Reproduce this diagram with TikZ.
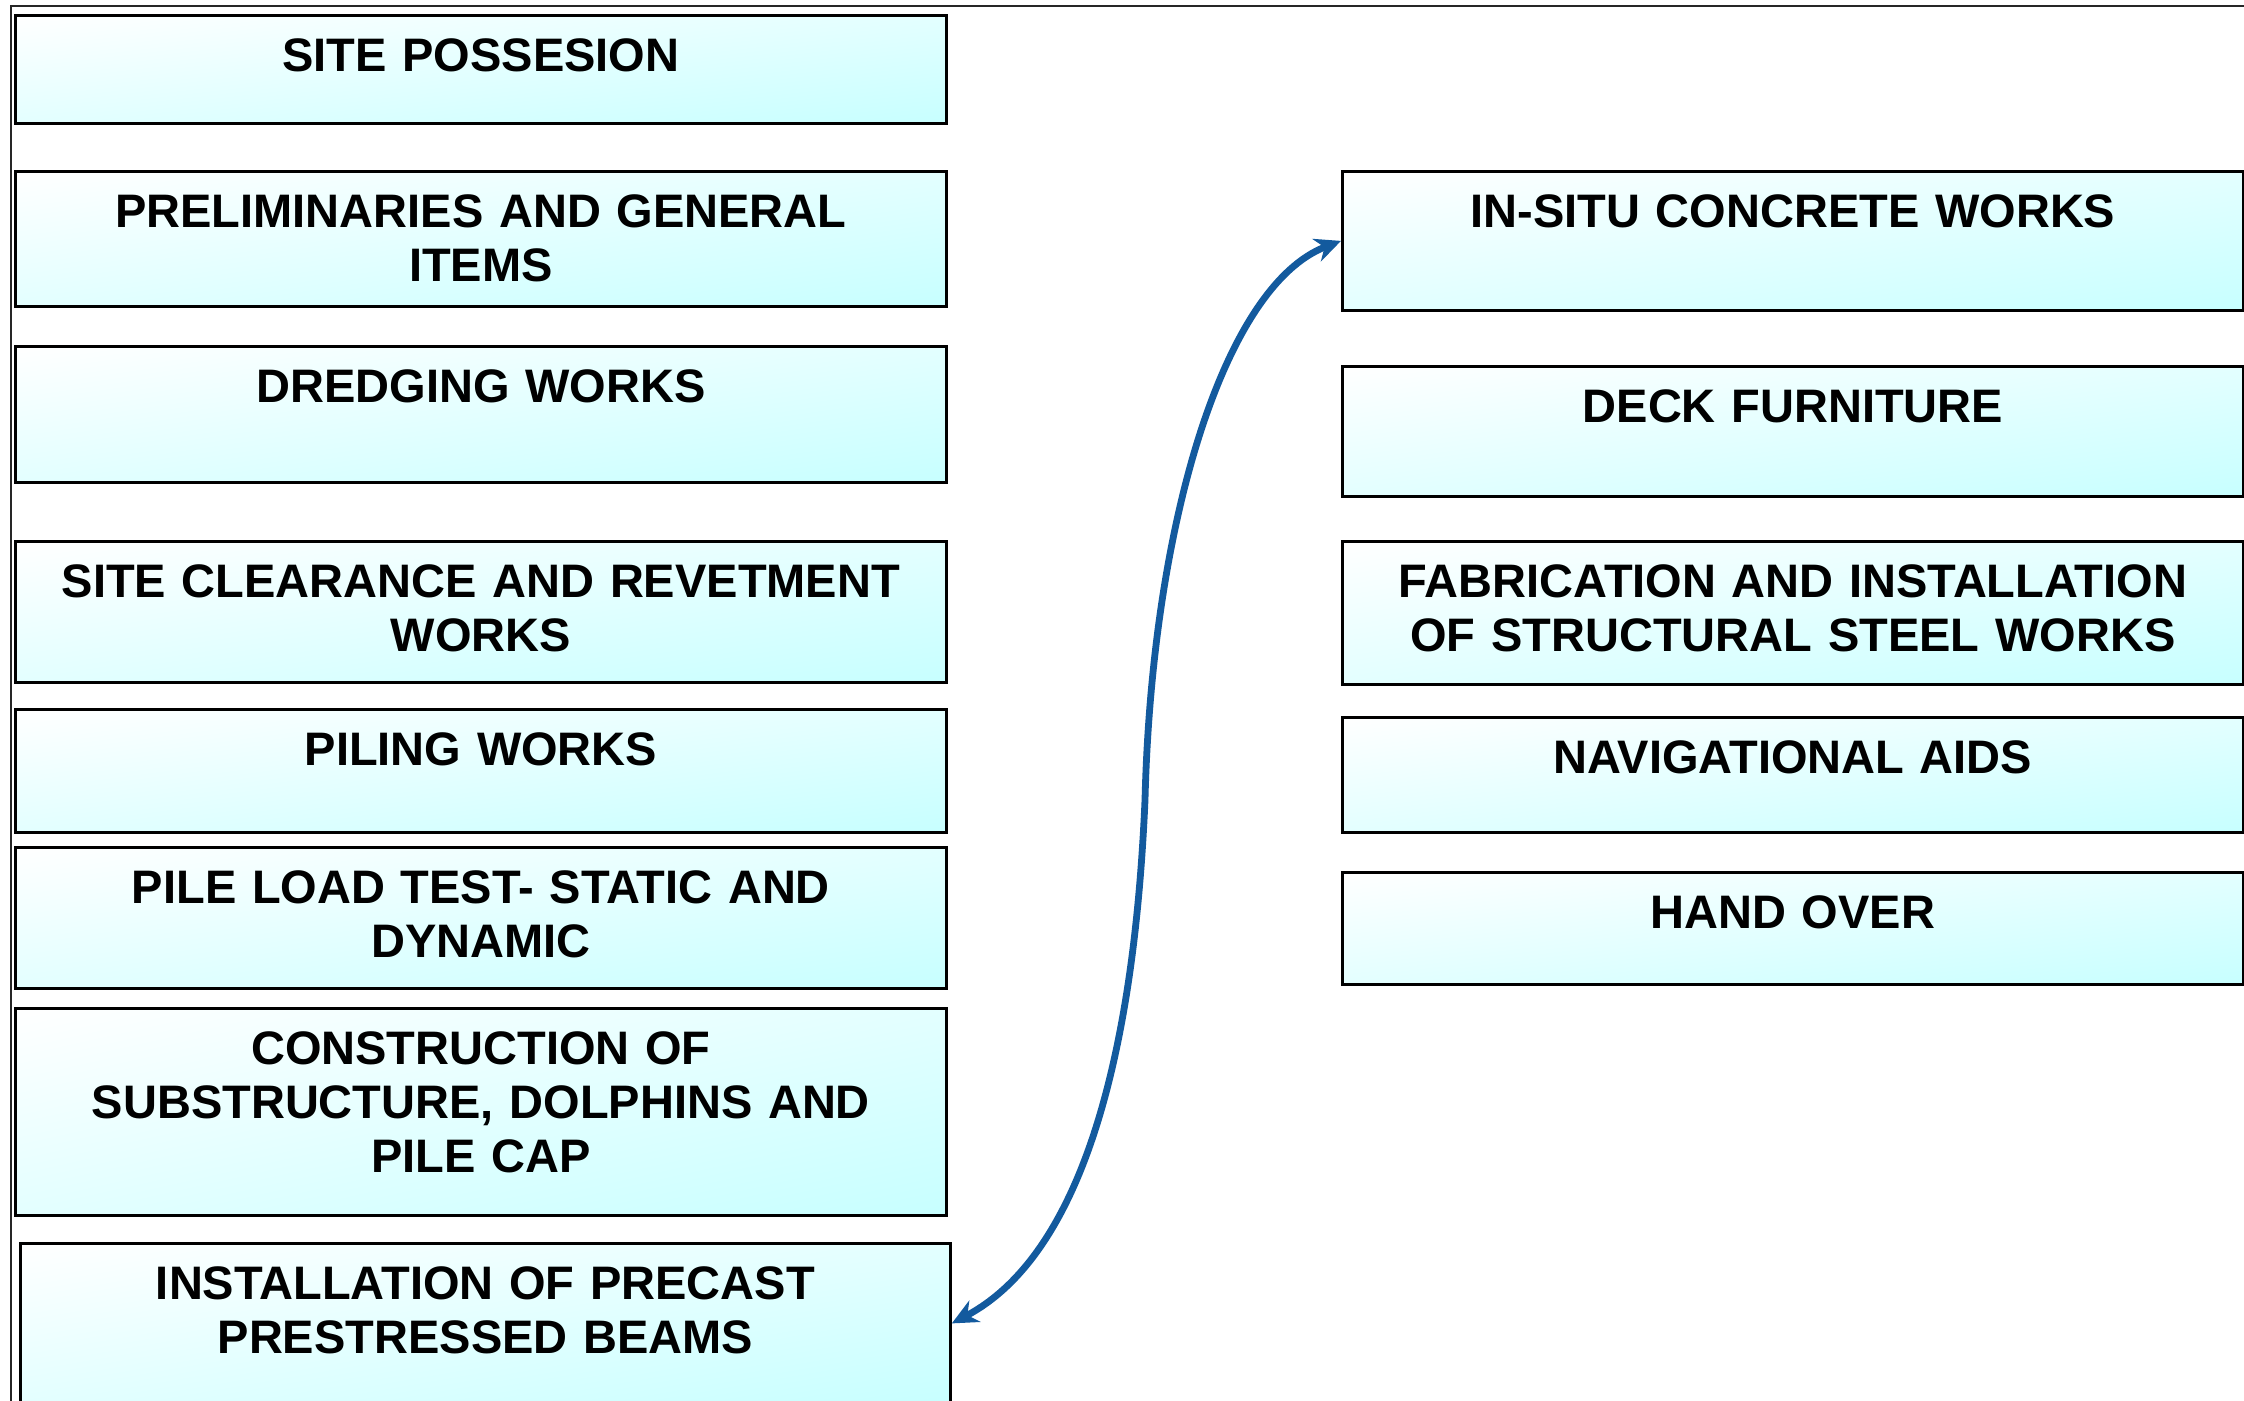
\documentclass[tikz,border=0pt]{standalone}
\usepackage{fontspec}
\setmainfont{Liberation Sans}
\usetikzlibrary{arrows.meta}
\definecolor{arrowblue}{HTML}{135A9E}
% diagonal gradient, white at top left, light cyan at bottom right, fitted to each box
\pgfdeclarefunctionalshading{boxdiag}{\pgfpoint{0bp}{0bp}}{\pgfpoint{100bp}{100bp}}{}{
  sub 50 add 100 div
  dup 0 lt {pop 0} if
  dup 1 gt {pop 1} if
  0.22 mul 1 exch sub
  1 1
}
\newcommand\mkbox[6]{%
  \pgfmathsetmacro\bw{(#4-#2)*0.5}%
  \pgfmathsetmacro\bh{(#5-#3)*0.5}%
  \pgfmathsetmacro\tw{(#4-#2-30)*0.5}%
  \node[stepbox, minimum width=\bw pt, minimum height=\bh pt] (#1) at (#2,#3) {};
  \node[lbl, text width=\tw pt] (#1-t) at (#1.north) {\rule{0pt}{28.75pt}#6};
}
\begin{document}
\begin{tikzpicture}[x=0.5pt,y=-0.5pt,
  stepbox/.style={draw=black, line width=1.4pt, shade, shading=boxdiag, shading angle=0, inner sep=0pt, anchor=north west},
  lbl/.style={anchor=north, inner sep=0pt, outer sep=0pt, align=center, font=\bfseries\fontsize{23.5pt}{27pt}\selectfont},
  frame/.style={draw=black!85, line width=0.8pt},
  conn/.style={draw=arrowblue, line width=3.4pt, <->, >={Stealth[length=13pt,width=12pt]}}]
\useasboundingbox (0,0) rectangle (2244,1401);
\clip (0,0) rectangle (2244,1401);
\fill[white] (0,0) rectangle (2244,1401);
\draw[frame] (11,1410) -- (11,6) -- (2250,6);

\mkbox{B1}{14}{14}{945}{122}{SITE POSSESION}
\mkbox{B2}{14}{170}{945}{305}{PRELIMINARIES AND GENERAL\\ITEMS}
\mkbox{B3}{14}{345}{945}{481}{DREDGING WORKS}
\mkbox{B4}{14}{540}{945}{681}{SITE CLEARANCE AND REVETMENT\\WORKS}
\mkbox{B5}{14}{708}{945}{831}{PILING WORKS}
\mkbox{B6}{14}{846}{945}{987}{PILE LOAD TEST- STATIC AND\\DYNAMIC}
\mkbox{B7}{14}{1007}{945}{1214}{CONSTRUCTION OF\\SUBSTRUCTURE, DOLPHINS AND\\PILE CAP}
\mkbox{B8}{19}{1242}{949}{1402}{INSTALLATION OF PRECAST\\PRESTRESSED BEAMS}

\mkbox{R1}{1341}{170}{2242}{309}{IN-SITU CONCRETE WORKS}
\mkbox{R2}{1341}{365}{2242}{495}{DECK FURNITURE}
\mkbox{R3}{1341}{540}{2242}{683}{FABRICATION AND INSTALLATION\\OF STRUCTURAL STEEL WORKS}
\mkbox{R4}{1341}{716}{2242}{831}{NAVIGATIONAL AIDS}
\mkbox{R5}{1341}{871}{2242}{983}{HAND OVER}

\coordinate (bend) at (1145,800);
\draw[conn] (B8.east) .. controls (1110,1240) and (1138,960) .. (bend)
  .. controls (1152,520) and (1225,285) .. (R1.west);
\end{tikzpicture}
\end{document}
